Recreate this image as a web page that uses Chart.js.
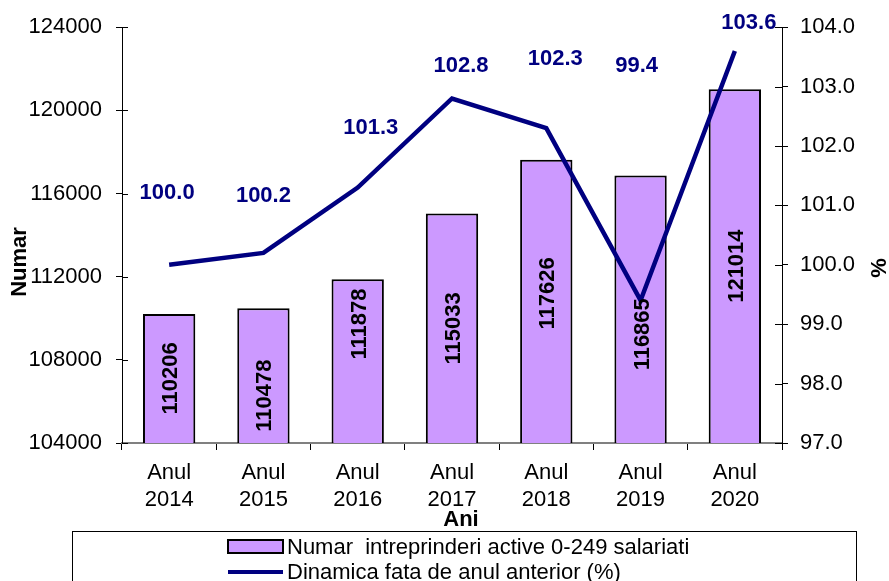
<!DOCTYPE html>
<html>
<head>
<meta charset="utf-8">
<script src="https://cdn.jsdelivr.net/npm/chart.js@4/dist/chart.umd.min.js"></script>
<style>
  html, body { margin: 0; padding: 0; background: #fff; }
  #wrap { width: 889px; height: 581px; overflow: hidden; }
</style>
</head>
<body>
<div id="wrap"><canvas id="chart" width="889" height="581"></canvas></div>
<script>
// Data
const years = ['2014', '2015', '2016', '2017', '2018', '2019', '2020'];
const firms = [110206, 110478, 111878, 115033, 117626, 116865, 121014];
const dynamics = [100.0, 100.2, 101.3, 102.8, 102.3, 99.4, 103.6];
const leftTicks = [104000, 108000, 112000, 116000, 120000, 124000];
const rightTicks = [97, 98, 99, 100, 101, 102, 103, 104];

const FONT = '"Liberation Sans", Arial, sans-serif';
const NAVY = '#000080';
const LILAC = '#CC99FF';

// Hand placed labels in the original (pixel shifts, kept apart from the data)
const lineLabelShift = [[-2, -72], [0, -57], [13, -60], [9, -33], [9, -69], [-4, -235], [14, -28]];
const barLabelShift = [0, 20, -37, 0, -8, 25, 0];

const labelsPlugin = {
  id: 'labelsPlugin',
  afterDatasetsDraw(chart) {
    const ctx = chart.ctx;
    const barMeta = chart.getDatasetMeta(0);
    const lineMeta = chart.getDatasetMeta(1);
    const zero = chart.scales.y.getPixelForValue(leftTicks[0]);
    ctx.save();
    // bar values, rotated
    ctx.font = 'bold 22px ' + FONT;
    ctx.fillStyle = '#000';
    ctx.textAlign = 'center';
    ctx.textBaseline = 'middle';
    barMeta.data.forEach((bar, i) => {
      const p = bar.getProps(['x', 'y'], true);
      const cy = (p.y + zero) / 2 + barLabelShift[i];
      ctx.save();
      ctx.translate(p.x + 2, cy);
      ctx.rotate(-Math.PI / 2);
      ctx.fillText(String(firms[i]), 0, 0);
      ctx.restore();
    });
    // line values
    ctx.fillStyle = NAVY;
    lineMeta.data.forEach((pt, i) => {
      const [dx, dy] = lineLabelShift[i];
      ctx.fillText(dynamics[i].toFixed(1), pt.x + dx, pt.y + dy);
    });
    ctx.restore();
  },
  afterDraw(chart) {
    const ctx = chart.ctx;
    const { y, y1 } = chart.scales;
    ctx.save();
    // tick marks crossing into the plot, as in the original
    ctx.strokeStyle = '#000';
    ctx.lineWidth = 1;
    ctx.beginPath();
    leftTicks.forEach(v => {
      const py = Math.round(y.getPixelForValue(v)) + 0.5;
      ctx.moveTo(y.right, py);
      ctx.lineTo(y.right + 6, py);
    });
    rightTicks.forEach(v => {
      const py = Math.round(y1.getPixelForValue(v)) + 0.5;
      ctx.moveTo(y1.left - 7, py);
      ctx.lineTo(y1.left, py);
    });
    ctx.stroke();

    // axis titles
    ctx.font = 'bold 22px ' + FONT;
    ctx.fillStyle = '#000';
    ctx.textAlign = 'center';
    ctx.textBaseline = 'middle';
    ctx.fillText('Ani', 461, 520);
    ctx.save();
    ctx.translate(20, 262);
    ctx.rotate(-Math.PI / 2);
    ctx.fillText('Numar', 0, 0);
    ctx.restore();
    ctx.save();
    ctx.translate(880, 268);
    ctx.rotate(-Math.PI / 2);
    ctx.fillText('%', 0, 0);
    ctx.restore();

    // legend box
    ctx.strokeStyle = '#000';
    ctx.lineWidth = 1;
    ctx.strokeRect(72.5, 531.5, 784, 60);
    const ds = chart.data.datasets;
    ctx.font = '22px ' + FONT;
    ctx.textAlign = 'left';
    const boxW = 55, gap = 4;
    const textW = Math.max(...ds.map(d => ctx.measureText(d.label).width));
    const startX = Math.round(459 - (boxW + gap + textW) / 2);
    // bar entry
    ctx.fillStyle = LILAC;
    ctx.fillRect(startX, 540, boxW, 13);
    ctx.lineWidth = 2;
    ctx.strokeRect(startX, 540, boxW, 13);
    ctx.fillStyle = '#000';
    ctx.fillText(ds[0].label, startX + boxW + gap, 548);
    // line entry
    ctx.strokeStyle = NAVY;
    ctx.lineWidth = 4;
    ctx.beginPath();
    ctx.moveTo(startX, 572);
    ctx.lineTo(startX + boxW, 572);
    ctx.stroke();
    ctx.fillText(ds[1].label, startX + boxW + gap, 573);
    ctx.restore();
  }
};

new Chart(document.getElementById('chart'), {
  type: 'bar',
  data: {
    labels: years.map(y => ['Anul', y]),
    datasets: [
      {
        type: 'bar',
        label: 'Numar  intreprinderi active 0-249 salariati',
        data: firms,
        yAxisID: 'y',
        backgroundColor: LILAC,
        borderColor: '#000',
        borderWidth: 2,
        borderSkipped: false,
        categoryPercentage: 0.74,
        barPercentage: 0.75,
        order: 2
      },
      {
        type: 'line',
        label: 'Dinamica fata de anul anterior (%)',
        data: dynamics,
        yAxisID: 'y1',
        borderColor: NAVY,
        borderWidth: 4.5,
        pointRadius: 0,
        tension: 0,
        order: 1
      }
    ]
  },
  options: {
    responsive: false,
    animation: false,
    devicePixelRatio: 1,
    layout: { padding: { top: 25, left: 0, right: 0, bottom: 0 } },
    plugins: { legend: { display: false }, tooltip: { enabled: false } },
    scales: {
      x: {
        offset: true,
        grid: { display: true, drawOnChartArea: false, drawTicks: true, tickLength: 7, offset: true, color: '#000' },
        border: { color: '#808080', width: 2 },
        ticks: { color: '#000', font: { family: FONT, size: 22, lineHeight: 1.25 }, padding: 9, maxRotation: 0, autoSkip: false },
        afterFit(s) { s.height = 138; }
      },
      y: {
        position: 'left',
        min: leftTicks[0],
        max: leftTicks[leftTicks.length - 1],
        afterBuildTicks(s) { s.ticks = leftTicks.map(v => ({ value: v })); },
        grid: { drawOnChartArea: false, drawTicks: true, tickLength: 6, color: '#000' },
        border: { color: '#000', width: 1 },
        ticks: { color: '#000', font: { family: FONT, size: 22 }, padding: 14, callback: v => String(v) },
        afterFit(s) { s.width = 122; }
      },
      y1: {
        position: 'right',
        min: rightTicks[0],
        max: rightTicks[rightTicks.length - 1],
        afterBuildTicks(s) { s.ticks = rightTicks.map(v => ({ value: v })); },
        grid: { drawOnChartArea: false, drawTicks: true, tickLength: 6, color: '#000' },
        border: { color: '#000', width: 1 },
        ticks: { color: '#000', font: { family: FONT, size: 22 }, padding: 12, callback: v => Number(v).toFixed(1) },
        afterFit(s) { s.width = 107; }
      }
    }
  },
  plugins: [labelsPlugin]
});
</script>
</body>
</html>
